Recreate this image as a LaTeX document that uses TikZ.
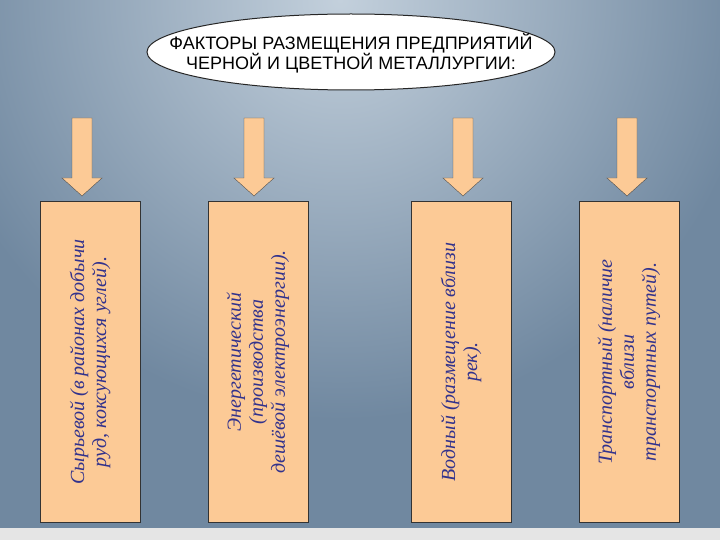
\documentclass[tikz,border=0pt]{standalone}
\usepackage{fontspec}
\setmainfont{Liberation Serif}
\newfontfamily\titlefont{Liberation Sans}
\usetikzlibrary{shapes.geometric}
\definecolor{boxfill}{RGB}{252,202,150}
\definecolor{txtblue}{RGB}{50,50,140}
\definecolor{bgA}{RGB}{112,136,160}
\definecolor{bgB}{RGB}{195,208,220}
\begin{document}
\begin{tikzpicture}[x=1pt,y=-1pt,
  factor/.style={draw=black!80,fill=boxfill,minimum width=100pt,minimum height=321pt,inner sep=0pt},
  ftext/.style={rotate=90,align=center,text=txtblue,font=\itshape\fontsize{20}{22}\selectfont},
  darrow/.style={draw=black!70,fill=boxfill}]
\useasboundingbox (0,0) rectangle (720,540);
\clip (0,0) rectangle (720,540);
\fill[bgA] (0,0) rectangle (720,540);
\shade[inner color=bgB,outer color=bgA] (340,0) circle (420);
\fill[white!80!gray] (0,528) rectangle (720,540);
\node[ellipse,draw=black!85,line width=1pt,fill=white,minimum width=408pt,minimum height=76pt,inner sep=0pt] (title) at (351,52) {};
\node[font=\titlefont\fontsize{18}{20}\selectfont,align=center] (tt) at (351,53) {ФАКТОРЫ РАЗМЕЩЕНИЯ ПРЕДПРИЯТИЙ\\ЧЕРНОЙ И ЦВЕТНОЙ МЕТАЛЛУРГИИ:};
\node[factor] (b1) at (90,362) {};
\node[factor] (b2) at (258,362) {};
\node[factor] (b3) at (461,362) {};
\node[factor] (b4) at (629,362) {};
\node[ftext] (t1) at (b1) {Сырьевой (в районах добычи\\руд, коксующихся углей).};
\node[ftext] (t2) at (b2) {Энергетический\\(производства\\дешёвой электроэнергии).};
\node[ftext] (t3) at (b3) {Водный (размещение вблизи\\рек).};
\node[ftext] (t4) at (b4) {Транспортный (наличие\\вблизи\\транспортных путей).};
\foreach \n/\cx in {a1/82,a2/254,a3/463,a4/627}{
  \coordinate (\n) at (\cx,196);
  \draw[darrow] ([xshift=-10pt,yshift=78pt]\n) -- ([xshift=10pt,yshift=78pt]\n) -- ([xshift=10pt,yshift=18pt]\n) -- ([xshift=20pt,yshift=18pt]\n) -- (\n) -- ([xshift=-20pt,yshift=18pt]\n) -- ([xshift=-10pt,yshift=18pt]\n) -- cycle;
}
\end{tikzpicture}
\end{document}
